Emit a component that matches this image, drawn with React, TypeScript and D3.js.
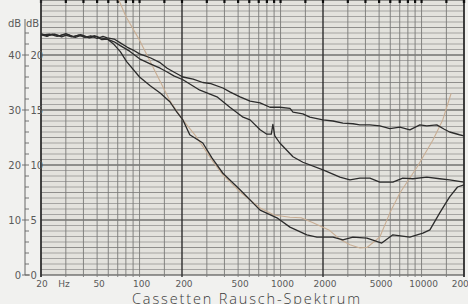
import React from "react";
import * as d3 from "d3";

const W = 468;
const H = 304;

// frequency ticks (Hz) labelled on the x axis
const xTickValues = [20, 50, 100, 200, 500, 1000, 2000, 5000, 10000, 20000];
const xTickLabels = ["20", "50", "100", "200", "500", "1000", "2000", "5000", "10000", "20000"];
// grid multipliers per decade
const gridMult = [1, 1.5, 2, 3, 4, 5, 6, 7, 8, 9];
const decades = [10, 100, 1000, 10000];
// left / right dB scales
const leftTicks = [0, 10, 20, 30, 40];
const rightLabels = ["0", "5", "10", "15", "20"];

// Curve A (upper dark trace)
const aFreq = [20, 23, 26, 29, 33, 37, 41, 45, 50, 55, 59, 66, 73, 82, 90, 100, 119, 140, 157, 175, 203, 240, 281, 320, 390, 437, 516, 608, 716, 841, 988, 1166, 1225, 1440, 1612, 2000, 2352, 2770, 3260, 3654, 4300, 5060, 5960, 7020, 8260, 9730, 10900, 12820, 14500, 15820, 18580, 20000];
const aDb = [43.6, 43.8, 43.4, 43.7, 43.3, 43.6, 43.2, 43.5, 43.0, 43.4, 43.1, 42.9, 42.2, 41.4, 40.9, 40.2, 39.5, 38.6, 37.6, 36.9, 36.0, 35.6, 35.0, 34.8, 34.0, 33.3, 32.4, 31.6, 31.3, 30.5, 30.5, 30.3, 29.6, 29.3, 28.7, 28.2, 28.0, 27.6, 27.5, 27.3, 27.3, 27.1, 26.6, 26.9, 26.4, 27.3, 27.1, 27.3, 26.5, 26.0, 25.5, 25.3];

// Curve B (middle dark trace, with hum spike near 880 Hz)
const bFreq = [20, 22, 25, 28, 31, 35, 39, 44, 49, 54, 59, 66, 73, 85, 100, 119, 140, 157, 175, 203, 268, 354, 437, 542, 608, 716, 800, 860, 882, 910, 988, 1225, 1440, 2000, 2636, 3106, 3654, 4300, 5060, 6260, 7360, 8680, 10900, 13460, 15820, 20000];
const bDb = [43.9, 43.5, 43.8, 43.3, 43.7, 43.2, 43.6, 43.1, 43.4, 42.8, 42.9, 42.4, 41.7, 40.7, 39.3, 38.4, 37.6, 36.9, 36.2, 35.5, 33.6, 32.4, 30.5, 28.7, 28.2, 26.4, 25.6, 25.6, 27.4, 25.3, 24.0, 21.5, 20.5, 19.1, 17.8, 17.3, 17.6, 17.6, 16.9, 16.9, 17.6, 17.5, 17.8, 17.5, 17.3, 16.9];

// Curve C (lowest dark trace)
const cFreq = [20, 22, 24, 27, 30, 34, 38, 43, 48, 53, 59, 66, 73, 81, 100, 119, 140, 164, 184, 203, 227, 281, 326, 390, 516, 716, 942, 1166, 1536, 1812, 2352, 2770, 3260, 4100, 5220, 6260, 8260, 10220, 11460, 13460, 15820, 18000, 20000];
const cDb = [43.7, 43.4, 43.8, 43.5, 43.9, 43.3, 43.7, 43.2, 43.5, 43.1, 42.9, 41.9, 40.6, 38.8, 36.0, 34.4, 33.1, 31.5, 29.6, 28.2, 25.5, 24.0, 21.3, 18.5, 15.5, 11.8, 10.4, 8.7, 7.3, 6.9, 6.9, 6.4, 6.9, 6.7, 5.8, 7.3, 6.9, 7.6, 8.2, 11.3, 14.2, 16.0, 16.4];

// Tan reference curve
const tFreq = [70, 80, 100, 118, 135, 165, 200, 250, 326, 390, 516, 716, 900, 1166, 1400, 1700, 2200, 2636, 3106, 3654, 4100, 5060, 5960, 7020, 9270, 12020, 14130, 15080, 16200];
const tDb = [50.5, 47.0, 42.7, 39.0, 36.0, 31.6, 28.4, 25.3, 20.9, 18.2, 15.1, 12.2, 10.9, 10.5, 10.4, 9.5, 8.2, 6.5, 5.5, 4.9, 5.0, 6.9, 11.3, 14.9, 19.6, 24.5, 28.2, 30.5, 33.0];

const title = "Cassetten Rausch-Spektrum";

export default function App() {
  const x = d3.scaleLog().domain([20, 20000]).range([41, 464]);
  const y = d3.scaleLinear().domain([0, 50]).range([275, 0]);

  const line = d3
    .line<[number, number]>()
    .x((d) => x(d[0]))
    .y((d) => y(d[1]))
    .curve(d3.curveLinear);

  const zip = (f: number[], v: number[]) => f.map((ff, i) => [ff, v[i]] as [number, number]);

  const vGrid: { f: number; major: boolean }[] = [];
  decades.forEach((dec) => {
    gridMult.forEach((m) => {
      const f = dec * m;
      if (f >= 20 && f <= 20000) vGrid.push({ f, major: m === 2 });
    });
  });
  vGrid.push({ f: 20000, major: true });

  const hGrid = d3.range(0, 51, 1);
  const axisTicks = d3.range(0, 46, 2);

  const bg = "#e3e2dd";
  const grid = "#7a7a78";
  const dark = "#2b2b2b";
  const label = "#5a5a5a";

  return (
    <svg
      width={W}
      height={H}
      style={{ position: "absolute", left: 0, top: 0, background: "#f1f1ef" }}
      fontFamily="'DejaVu Sans', sans-serif"
    >
      <defs>
        <clipPath id="plot">
          <rect x={41} y={0} width={423} height={275} />
        </clipPath>
      </defs>
      <rect x={41} y={0} width={423} height={275} fill={bg} />
      {hGrid.map((v) => (
        <line
          key={"h" + v}
          x1={41}
          x2={464}
          y1={y(v)}
          y2={y(v)}
          stroke={v % 10 === 0 ? "#3a3a3a" : v % 5 === 0 ? "#6a6a68" : "#8a8a88"}
          strokeWidth={v % 10 === 0 ? 1.1 : 0.7}
        />
      ))}
      {vGrid.map((g) => (
        <g key={"v" + g.f}>
          <line
            x1={x(g.f)}
            x2={x(g.f)}
            y1={0}
            y2={277}
            stroke={g.major ? "#2e2e2e" : grid}
            strokeWidth={g.major ? 1.4 : 0.9}
          />
          <line x1={x(g.f)} x2={x(g.f)} y1={0} y2={3} stroke="#111" strokeWidth={2.2} />
        </g>
      ))}
      <line x1={41} x2={41} y1={0} y2={277} stroke="#333" strokeWidth={1.4} />

      <g clipPath="url(#plot)" fill="none" strokeLinejoin="round">
        <path d={line(zip(tFreq, tDb)) || ""} stroke="#c9ae94" strokeWidth={1.1} />
        <path d={line(zip(cFreq, cDb)) || ""} stroke={dark} strokeWidth={1.3} />
        <path d={line(zip(bFreq, bDb)) || ""} stroke={dark} strokeWidth={1.3} />
        <path d={line(zip(aFreq, aDb)) || ""} stroke={dark} strokeWidth={1.3} />
      </g>

      {/* left double dB axis */}
      <line x1={25} x2={25} y1={19} y2={y(0)} stroke="#666" strokeWidth={1} />
      <line x1={25} x2={30} y1={y(0)} y2={y(0)} stroke="#666" strokeWidth={1} />
      {axisTicks.map((v) => (
        <line
          key={"t" + v}
          x1={v % 10 === 0 ? 22 : 25}
          x2={29}
          y1={y(v)}
          y2={y(v)}
          stroke="#666"
          strokeWidth={0.9}
        />
      ))}
      {leftTicks.map((v, i) => (
        <g key={"l" + v} fontSize={10} fill={label}>
          <text x={21} y={y(v)} dy="0.35em" textAnchor="end">
            {v}
          </text>
          <text x={30.5} y={y(v)} dy="0.35em" textAnchor="start">
            {rightLabels[i]}
          </text>
        </g>
      ))}
      <text x={8} y={27} fontSize={10} fill={label}>dB</text>
      <text x={26} y={27} fontSize={10} fill={label}>dB</text>

      {xTickValues.map((v, i) => (
        <text
          key={"x" + v}
          x={x(v) + (v === 20 ? 1 : 2)}
          y={287}
          textAnchor="middle"
          fontSize={9}
          fill={label}
        >
          {xTickLabels[i]}
        </text>
      ))}
      <text x={64} y={287} textAnchor="middle" fontSize={9} fill={label}>Hz</text>

      <text
        x={246}
        y={304}
        textAnchor="middle"
        fontSize={14.5}
        fill="#3a3a3a"
        fontFamily="'Open Sans', 'DejaVu Sans', sans-serif"
        fontWeight={300}
        textLength={228}
      >
        {title}
      </text>
    </svg>
  );
}
